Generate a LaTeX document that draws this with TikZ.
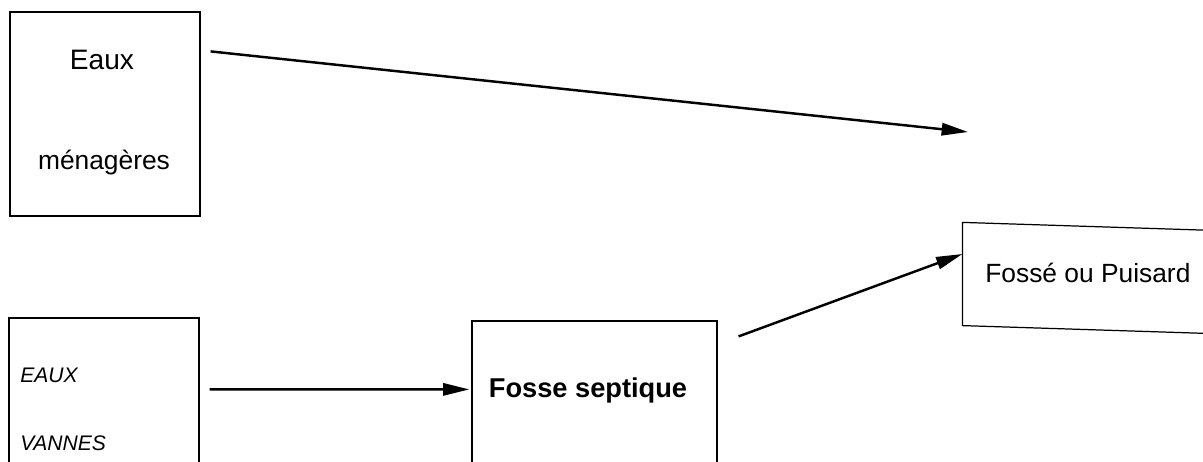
\documentclass[tikz,border=0pt]{standalone}
\usepackage{fontspec}
\setmainfont{Liberation Sans}
\usetikzlibrary{arrows.meta, positioning}
\tikzset{
    sewage/.style={x=0.02cm, y=-0.02cm, >={Triangle[length=15pt, width=7pt]}},
    box/.style={draw, line width=0.7pt, inner sep=0pt},
    flow/.style={->, line width=1.4pt},
    txt/.style={inner sep=0pt, font=\fontsize{15}{18}\selectfont},
    % small italic capitals in the lower left box
    smalltxt/.style={inner sep=0pt, anchor=west, font=\fontsize{12}{14}\selectfont\itshape},
}
\begin{document}
\begin{tikzpicture}[sewage]
    \useasboundingbox (0,0) rectangle (1203,462);
    \clip (0,0) rectangle (1203,462);

    \node[box, minimum width=3.8cm, minimum height=4.08cm]  (menage)  at (105,114)  {};
    \node[box, minimum width=3.8cm, minimum height=3.44cm]  (vanne)   at (104,404)  {};
    \node[box, minimum width=4.9cm, minimum height=3.38cm]  (fosse)   at (594.5,405.5) {};
    \node[box, draw=none, minimum width=5.6cm, minimum height=2.04cm] (puisard) at (1103,275) {};
    % the right box runs off the page, its top and bottom slightly tilted
    \draw[line width=0.7pt] ([shift={(0,8)}]puisard.north east) -- ([shift={(0,-1)}]puisard.north west)
        -- ([shift={(0,-1)}]puisard.south west) -- ([shift={(0,8)}]puisard.south east);

    \node[txt, font=\fontsize{16}{19}\selectfont] (eaux)   at (102,60)  {Eaux};
    \node[txt]                                   (menlbl) at (104,163) {ménagères};
    \node[smalltxt]                              (eauxv)  at (20,375)  {EAUX};
    \node[smalltxt]                              (vanlbl) at (20,443)  {VANNES};
    \node[txt, font=\fontsize{15.5}{18}\selectfont\bfseries] (fslbl) at (588,390) {Fosse septique};
    \node[txt, anchor=west]                      (pslbl)  at (985,273) {Fossé ou Puisard};

    \coordinate (drop) at (968,132);

    \draw[flow] ([shift={(10,40)}]menage.north east) -- (drop);
    \draw[flow] ([shift={(10,72)}]vanne.north east) -- ([shift={(-2,69)}]fosse.north west);
    \draw[flow] ([shift={(21,16)}]fosse.north east) -- ([yshift=0.42cm]puisard.west);
\end{tikzpicture}
\end{document}
